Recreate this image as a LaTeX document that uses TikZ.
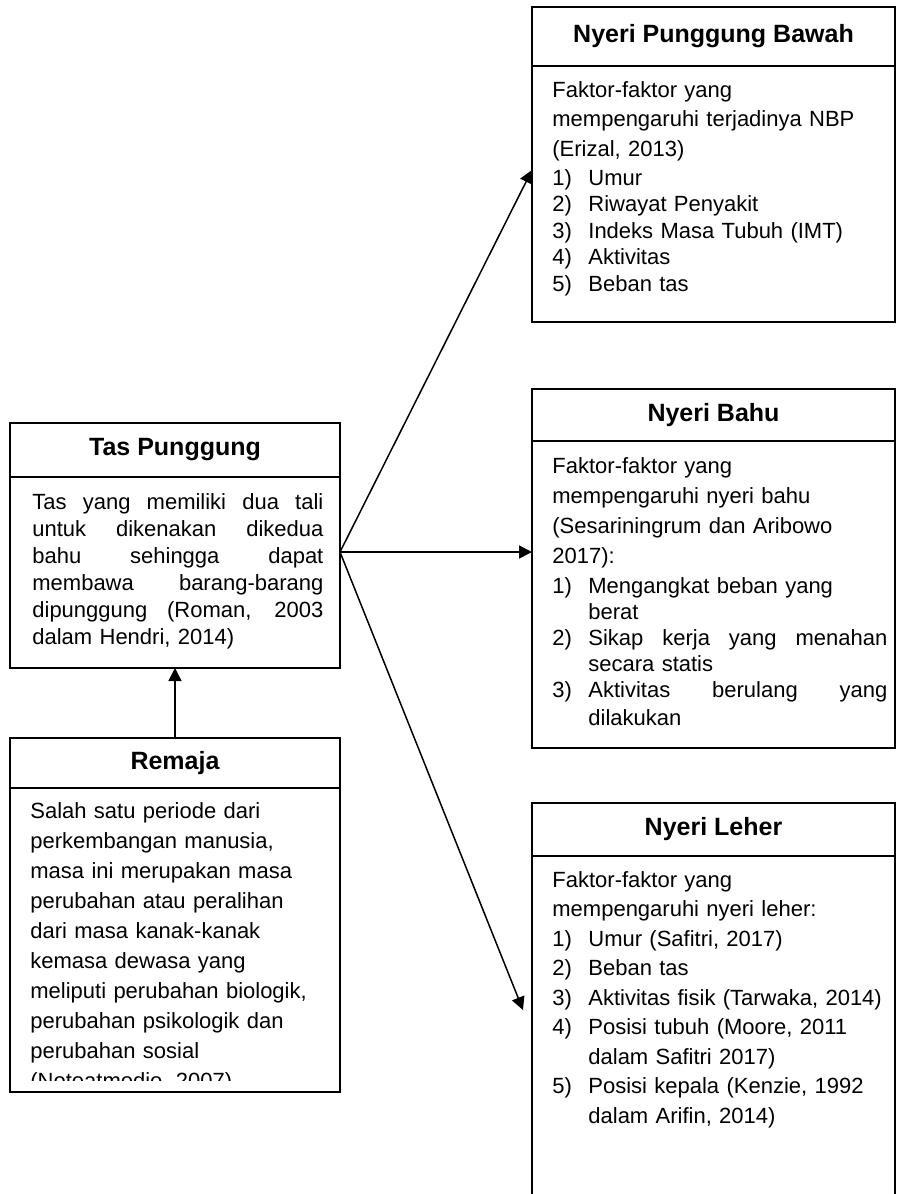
\documentclass[tikz,border=0pt]{standalone}
\usepackage{fontspec}
\setmainfont{Liberation Sans}
\usetikzlibrary{positioning, arrows.meta}

\newcommand{\itm}[2]{\makebox[18pt][l]{#1}#2}
\newcommand{\spread}[2]{\makebox[#1][s]{\spaceskip=.3333em plus 1fil\relax #2}}

\begin{document}
\begin{tikzpicture}[
        x=0.5pt, y=-0.5pt,
        head/.style={
            rectangle,
            draw,
            line width=0.9pt,
            inner sep=0pt,
            outer sep=0pt,
            font=\fontsize{12.5}{15}\selectfont\bfseries
        },
        body/.style={
            rectangle,
            draw,
            line width=0.9pt,
            inner sep=0pt,
            outer sep=0pt
        },
        txt/.style={
            anchor=base west,
            inner sep=0pt,
            text width=175pt,
            align=left,
            font=\fontsize{11}{15}\selectfont
        },
        arrow/.style={
            -{Triangle[length=6.5pt, width=6.5pt]},
            line width=0.75pt
        }
    ]
    \useasboundingbox (0,0) rectangle (896,1194);
    \clip (0,0) rectangle (896,1194);

    % Tas Punggung
    \node[head, minimum width=165pt, minimum height=27pt] (tpH) at (175, 450) {Tas Punggung};
    \node[body, minimum width=165pt, minimum height=95.5pt, below=0pt of tpH] (tpB) {};
    \node[txt, text width=146pt, font=\fontsize{11}{13.5}\selectfont] (tpT) at (32, 509) {%
        \spread{145.5pt}{Tas yang memiliki dua tali}\\
        \spread{145.5pt}{untuk dikenakan dikedua}\\
        \spread{145.5pt}{bahu sehingga dapat}\\
        \spread{145.5pt}{membawa barang-barang}\\
        \spread{145.5pt}{dipunggung (Roman, 2003}\\
        dalam Hendri, 2014)};

    % Remaja
    \node[head, minimum width=165pt, minimum height=25pt] (rH) at (175, 763) {Remaja};
    \node[body, minimum width=165pt, minimum height=152pt, below=0pt of rH] (rB) {};
    \begin{scope}
        \clip (rB.north west) rectangle ([yshift=6pt]rB.south east);
        \node[txt] (rT) at (30, 818) {Salah satu periode dari\\
            perkembangan manusia,\\
            masa ini merupakan masa\\
            perubahan atau peralihan\\
            dari masa kanak-kanak\\
            kemasa dewasa yang\\
            meliputi perubahan biologik,\\
            perubahan psikologik dan\\
            perubahan sosial\\
            (Notoatmodjo, 2007)};
    \end{scope}

    % Nyeri Punggung Bawah
    \node[head, minimum width=181.5pt, minimum height=29.5pt] (npbH) at (713.5, 36.5) {Nyeri Punggung Bawah};
    \node[body, minimum width=181.5pt, minimum height=128pt, below=0pt of npbH] (npbB) {};
    \node[txt, font=\fontsize{11}{14.75}\selectfont] (npbT) at (552, 97) {Faktor-faktor yang\\
        mempengaruhi terjadinya NBP\\
        (Erizal, 2013)\\
        \itm{1)}{Umur}\\[-1.5pt]
        \itm{2)}{Riwayat Penyakit}\\[-1.5pt]
        \itm{3)}{Indeks Masa Tubuh (IMT)}\\[-1.5pt]
        \itm{4)}{Aktivitas}\\[-1.5pt]
        \itm{5)}{Beban tas}};

    % Nyeri Bahu
    \node[head, minimum width=181.5pt, minimum height=26pt] (nbH) at (713.5, 415) {Nyeri Bahu};
    \node[body, minimum width=181.5pt, minimum height=153.5pt, below=0pt of nbH] (nbB) {};
    \node[txt] (nbT) at (552, 473) {Faktor-faktor yang\\
        mempengaruhi nyeri bahu\\
        (Sesariningrum dan Aribowo\\
        2017):\\
        \itm{1)}{Mengangkat beban yang}\\[-2pt]
        \itm{}{berat}\\[-2pt]
        \itm{2)}{\spread{149.5pt}{Sikap kerja yang menahan}}\\[-2pt]
        \itm{}{secara statis}\\[-2pt]
        \itm{3)}{\spread{149.5pt}{Aktivitas berulang yang}}\\[-1pt]
        \itm{}{dilakukan}};

    % Nyeri Leher
    \node[head, minimum width=181.5pt, minimum height=26.5pt] (nlH) at (713.5, 829.5) {Nyeri Leher};
    \node[body, minimum width=181.5pt, minimum height=202pt, below=0pt of nlH] (nlB) {};
    \node[txt, font=\fontsize{11}{14.75}\selectfont] (nlT) at (552, 887) {Faktor-faktor yang\\
        mempengaruhi nyeri leher:\\
        \itm{1)}{Umur (Safitri, 2017)}\\
        \itm{2)}{Beban tas}\\
        \itm{3)}{Aktivitas fisik (Tarwaka, 2014)}\\
        \itm{4)}{Posisi tubuh (Moore, 2011}\\
        \itm{}{dalam Safitri 2017)}\\
        \itm{5)}{Posisi kepala (Kenzie, 1992}\\
        \itm{}{dalam Arifin, 2014)}};

    % Arrows
    \coordinate (fork) at ([yshift=10.25pt]tpB.east);
    \coordinate (nlTip) at ([xshift=-4.5pt, yshift=24pt]nlB.west);
    \draw[arrow] (rH) -- (tpB);
    \draw[arrow] (fork) -- ([yshift=12pt]npbB.west);
    \draw[arrow] (fork) -- (nbB.west |- fork);
    \draw[arrow] (fork) -- (nlTip);

\end{tikzpicture}
\end{document}
